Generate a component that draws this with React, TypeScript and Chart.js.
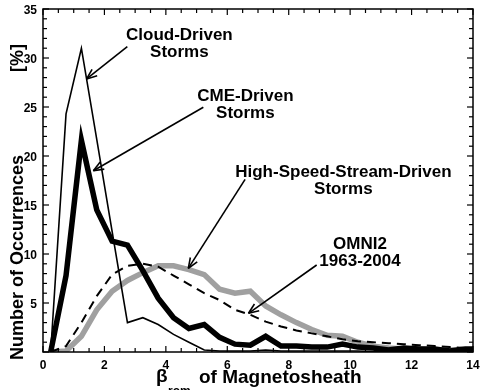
import React, { useEffect, useRef } from "react";
import { Chart, registerables } from "chart.js";

Chart.register(...registerables);

// ---- data ----
const binCenters = [
  0.25, 0.75, 1.25, 1.75, 2.25, 2.75, 3.25, 3.75, 4.25, 4.75, 5.25, 5.75, 6.25, 6.75, 7.25,
  7.75, 8.25, 8.75, 9.25, 9.75, 10.25, 10.75, 11.25, 11.75, 12.25, 12.75, 13.25, 13.75, 14.25,
];
const cloudDriven = [
  0, 24.3, 31.0, 21.7, 12.3, 3.0, 3.5, 2.8, 1.8, 1.0, 0.2, 0.1, 0.1, 0.1, 0.2,
  0.1, 0.1, 0.1, 0.1, 0.1, 0.1, 0.05, 0.05, 0.05, 0.05, 0.05, 0.05, 0.05, 0.05,
];
const cmeDriven = [
  0, 7.8, 21.6, 14.5, 11.3, 10.9, 8.3, 5.5, 3.5, 2.4, 2.8, 1.5, 0.8, 0.7, 1.6,
  0.6, 0.6, 0.5, 0.5, 0.8, 0.5, 0.4, 0.2, 0.4, 0.3, 0.3, 0.1, 0.3, 0.3,
];
const hssDriven = [
  0, 0.1, 1.6, 4.3, 6.2, 7.3, 8.1, 8.8, 8.8, 8.4, 7.9, 6.4, 6.0, 6.2, 4.7,
  3.8, 3.0, 2.3, 1.7, 1.6, 1.0, 0.6, 0.4, 0.3, 0.3, 0.2, 0.2, 0.2, 0.2,
];
const omni2 = [
  0, 0.6, 3.0, 5.7, 7.9, 8.8, 9.0, 8.7, 7.8, 6.9, 6.0, 5.3, 4.3, 3.8, 3.1,
  2.6, 2.2, 1.9, 1.6, 1.3, 1.1, 1.0, 0.9, 0.8, 0.7, 0.6, 0.5, 0.4, 0.4,
];
const xTickValues = [0, 2, 4, 6, 8, 10, 12, 14];
const yTickValues = [5, 10, 15, 20, 25, 30, 35];

const yTitle = "Number of Occurrences";
const yUnit = "[%]";
const xTitleSymbol = "β";
const xTitleSub = "rom";
const xTitleRest = "of Magnetosheath";

// annotation labels: text anchor (x, y of first baseline) and arrow start -> tip, in data units
const annotationLines = [
  ["Cloud-Driven", "Storms"],
  ["CME-Driven", "Storms"],
  ["High-Speed-Stream-Driven", "Storms"],
  ["OMNI2", "1963-2004"],
];
const annotationTextX = [4.44, 6.59, 9.78, 10.32];
const annotationTextY = [31.84, 25.61, 17.86, 10.51];
const arrowFromX = [2.745, 5.22, 6.58, 8.91];
const arrowFromY = [31.15, 24.97, 17.62, 8.88];
const arrowToX = [1.42, 1.64, 4.73, 6.69];
const arrowToY = [27.86, 18.5, 8.54, 3.95];

const FONT = "'Liberation Sans', Arial, Helvetica, sans-serif";

const toPoints = (ys: number[]) => binCenters.map((x, i) => ({ x, y: ys[i] }));

const framePlugin = {
  id: "frameAndNotes",
  afterDatasetsDraw(chart: any) {
    const { ctx, chartArea: a } = chart;
    const xs = chart.scales.x;
    const ys = chart.scales.y;
    ctx.save();
    ctx.strokeStyle = "#000";
    ctx.fillStyle = "#000";
    ctx.lineWidth = 1.5;
    ctx.strokeRect(a.left, a.top, a.right - a.left, a.bottom - a.top);

    ctx.lineWidth = 1.2;
    const seg = (x1: number, y1: number, x2: number, y2: number) => {
      ctx.beginPath();
      ctx.moveTo(x1, y1);
      ctx.lineTo(x2, y2);
      ctx.stroke();
    };
    for (let k = 0; k <= 28; k++) {
      const v = k * 0.5;
      const px = xs.getPixelForValue(v);
      const len = k % 4 === 0 ? 6 : 4;
      seg(px, a.bottom, px, a.bottom - len);
      seg(px, a.top, px, a.top + len);
    }
    for (let v = 0; v <= 35; v++) {
      const py = ys.getPixelForValue(v);
      const len = v % 5 === 0 ? 6 : 4;
      seg(a.left, py, a.left + len, py);
      seg(a.right, py, a.right - len, py);
    }

    // tick labels
    ctx.font = `bold 12px ${FONT}`;
    ctx.textAlign = "center";
    ctx.textBaseline = "alphabetic";
    xTickValues.forEach((v) => ctx.fillText(String(v), xs.getPixelForValue(v), a.bottom + 17));
    ctx.textAlign = "right";
    yTickValues.forEach((v) => ctx.fillText(String(v), a.left - 6, ys.getPixelForValue(v) + 4.5));

    // annotations
    ctx.font = `bold 17px ${FONT}`;
    ctx.textAlign = "center";
    ctx.lineWidth = 1.6;
    annotationLines.forEach((lines, i) => {
      const tx = xs.getPixelForValue(annotationTextX[i]);
      const ty = ys.getPixelForValue(annotationTextY[i]);
      lines.forEach((t, j) => ctx.fillText(t, tx, ty + j * 17));
      const x1 = xs.getPixelForValue(arrowFromX[i]);
      const y1 = ys.getPixelForValue(arrowFromY[i]);
      const x2 = xs.getPixelForValue(arrowToX[i]);
      const y2 = ys.getPixelForValue(arrowToY[i]);
      seg(x1, y1, x2, y2);
      const ang = Math.atan2(y1 - y2, x1 - x2);
      const hl = 11;
      const spread = 0.38;
      seg(x2, y2, x2 + hl * Math.cos(ang + spread), y2 + hl * Math.sin(ang + spread));
      seg(x2, y2, x2 + hl * Math.cos(ang - spread), y2 + hl * Math.sin(ang - spread));
    });

    // y axis title (rotated)
    ctx.font = `bold 18px ${FONT}`;
    ctx.textAlign = "left";
    ctx.save();
    ctx.translate(23, 360);
    ctx.rotate(-Math.PI / 2);
    ctx.fillText(yTitle, 0, 0);
    ctx.restore();
    ctx.save();
    ctx.translate(23, 72);
    ctx.rotate(-Math.PI / 2);
    ctx.fillText(yUnit, 0, 0);
    ctx.restore();

    // x axis title
    ctx.textAlign = "left";
    ctx.font = `bold 19px ${FONT}`;
    ctx.fillText(xTitleSymbol, 156, 382);
    ctx.font = `bold 12px ${FONT}`;
    ctx.fillText(xTitleSub, 168, 395);
    ctx.font = `bold 19px ${FONT}`;
    ctx.fillText(xTitleRest, 199, 383);
    ctx.restore();
  },
};

export default function App() {
  const ref = useRef<HTMLCanvasElement | null>(null);
  useEffect(() => {
    if (!ref.current) return;
    const chart = new Chart(ref.current, {
      type: "line",
      data: {
        datasets: [
          {
            label: "Cloud-Driven Storms",
            data: toPoints(cloudDriven),
            borderColor: "#000",
            borderWidth: 1.6,
            pointRadius: 0,
            tension: 0,
          },
          {
            label: "CME-Driven Storms",
            data: toPoints(cmeDriven),
            borderColor: "#000",
            borderWidth: 5.5,
            pointRadius: 0,
            tension: 0,
            borderJoinStyle: "miter",
          },
          {
            label: "OMNI2 1963-2004",
            data: toPoints(omni2),
            borderColor: "#000",
            borderWidth: 2,
            borderDash: [9, 6],
            pointRadius: 0,
            tension: 0,
          },
          {
            label: "High-Speed-Stream-Driven Storms",
            data: toPoints(hssDriven),
            borderColor: "#a0a0a0",
            borderWidth: 5.5,
            pointRadius: 0,
            tension: 0,
          },
        ],
      },
      options: {
        responsive: false,
        animation: false,
        events: [],
        layout: { padding: { top: 9, right: 9, left: 0, bottom: 0 } },
        plugins: { legend: { display: false }, tooltip: { enabled: false } },
        scales: {
          x: {
            type: "linear",
            min: 0,
            max: 14,
            ticks: { display: false },
            grid: { display: false, drawTicks: false },
            border: { display: false },
            afterFit: (s: any) => {
              s.height = 38;
            },
          },
          y: {
            type: "linear",
            min: 0,
            max: 35,
            ticks: { display: false },
            grid: { display: false, drawTicks: false },
            border: { display: false },
            afterFit: (s: any) => {
              s.width = 43;
            },
          },
        },
      },
      plugins: [framePlugin],
    } as any);
    return () => chart.destroy();
  }, []);
  return (
    <div style={{ position: "fixed", left: 0, top: 0, width: 482, height: 390, background: "#fff" }}>
      <canvas ref={ref} width={482} height={390} style={{ display: "block" }} />
    </div>
  );
}
